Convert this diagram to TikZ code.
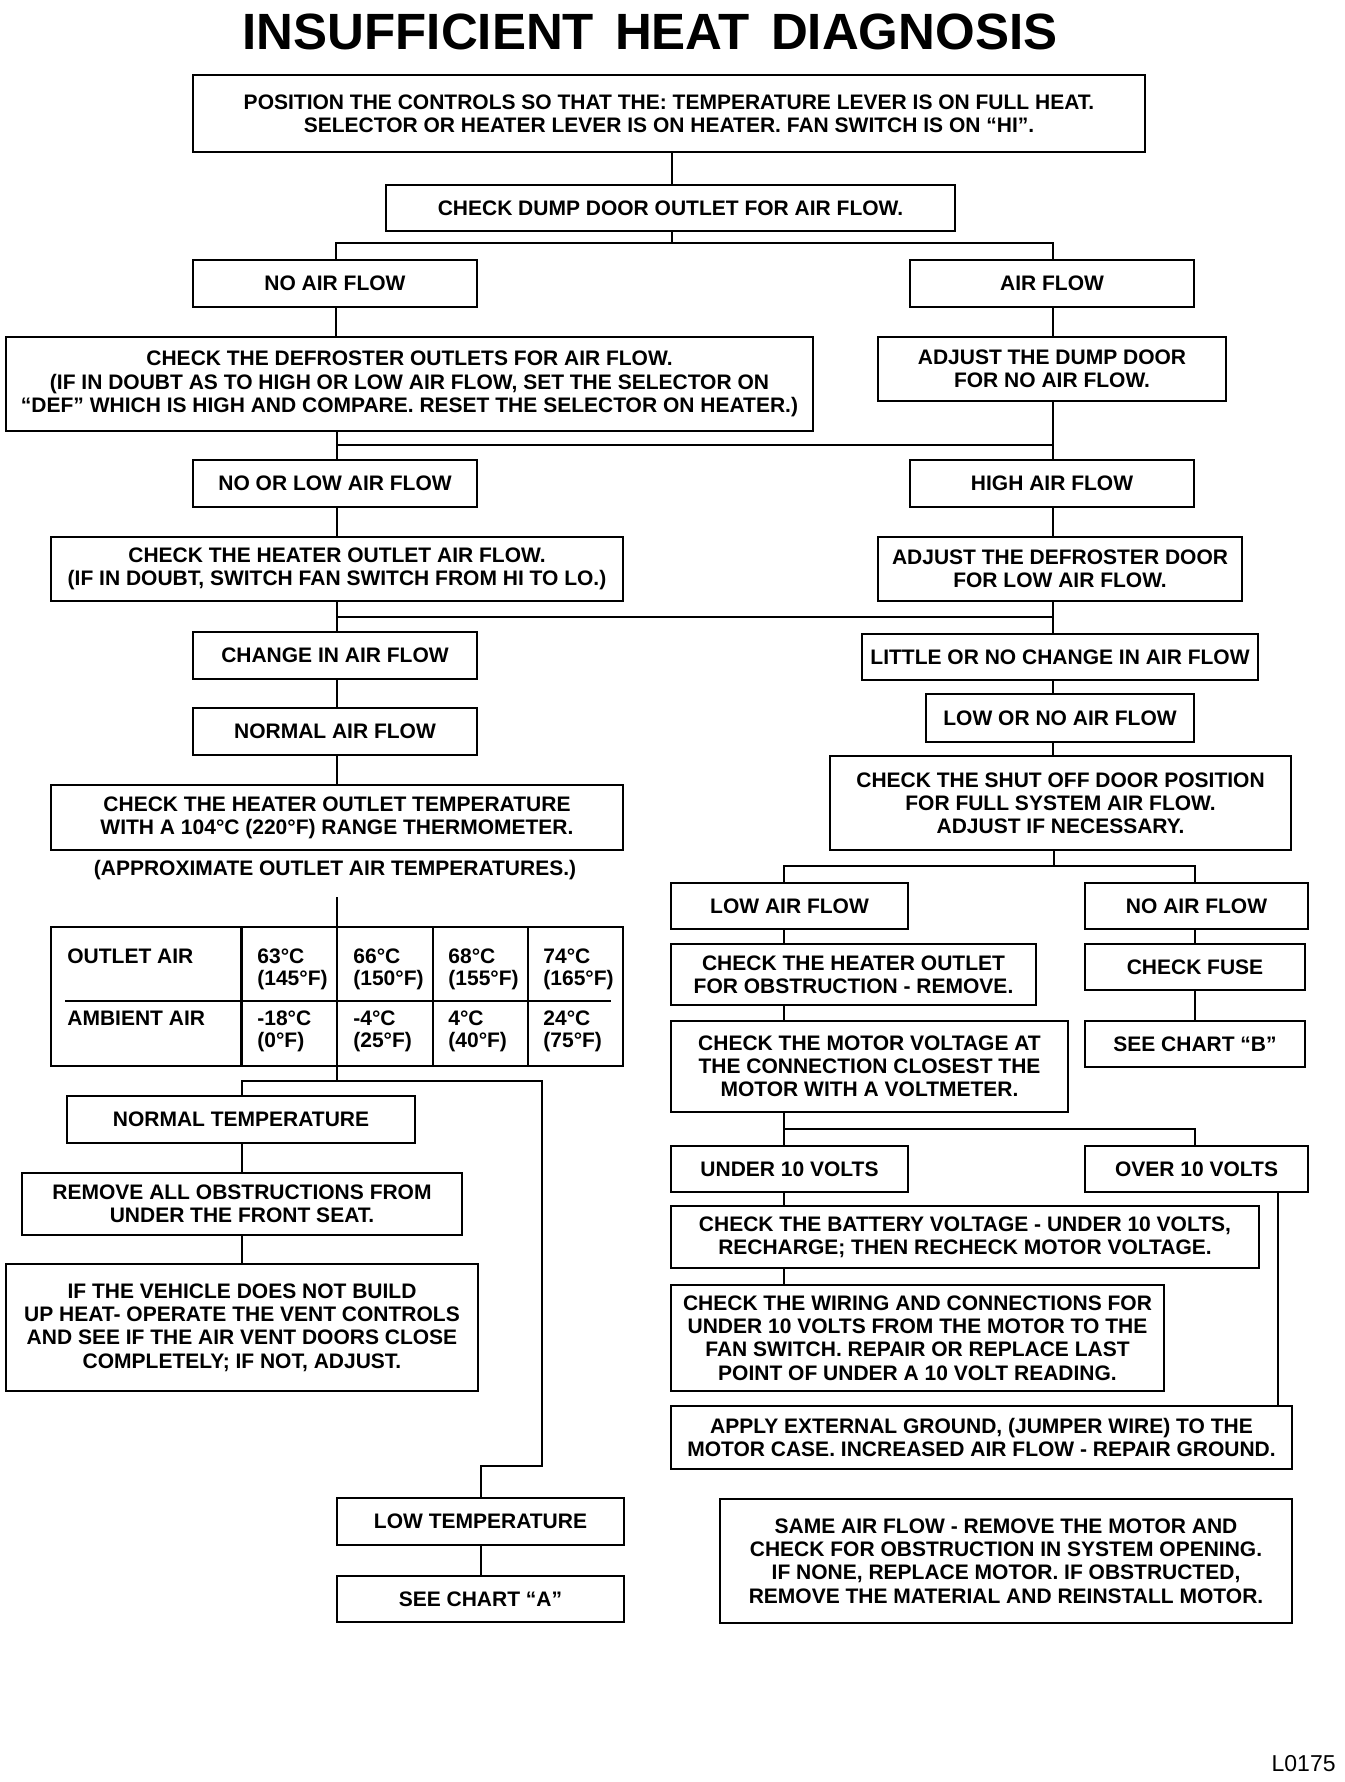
\documentclass[tikz,border=0pt]{standalone}
\usepackage{fontspec}
\setmainfont{Liberation Sans}
\tikzset{
  box/.style={draw, line width=1.2pt, inner sep=0pt, align=center,
    font=\bfseries\fontsize{10.5}{11.6}\selectfont},
  conn/.style={line width=0.8pt},
  tline/.style={line width=1.2pt},
  tt/.style={inner sep=0pt, anchor=base west, font=\bfseries\fontsize{10.5}{11.6}\selectfont},
}
\newcommand{\bx}[6]{\node[box, minimum width={(#4-#2)*0.5pt}, minimum height={(#5-#3)*0.5pt}] (#1) at ({(#2+#4)/2},{(#3+#5)/2}) {#6};}
\begin{document}
\begin{tikzpicture}[x=0.5pt,y=-0.5pt]
\useasboundingbox (0,0) rectangle (1344,1782);
% title
\node[inner sep=0pt, font=\bfseries\fontsize{25.5}{30}\selectfont] (title) at (650,32) {INSUFFICIENT\hspace{10.5pt}HEAT\hspace{10.5pt}DIAGNOSIS};
% boxes
\bx{pos}{193}{75}{1145}{152}{POSITION THE CONTROLS SO THAT THE: TEMPERATURE LEVER IS ON FULL HEAT.\\SELECTOR OR HEATER LEVER IS ON HEATER. FAN SWITCH IS ON “HI”.}
\bx{dump}{386}{185}{955}{231}{CHECK DUMP DOOR OUTLET FOR AIR FLOW.}
\bx{noair}{193}{260}{477}{307}{NO AIR FLOW}
\bx{air}{910}{260}{1194}{307}{AIR FLOW}
\bx{defrost}{6}{337}{813}{431}{CHECK THE DEFROSTER OUTLETS FOR AIR FLOW.\\(IF IN DOUBT AS TO HIGH OR LOW AIR FLOW, SET THE SELECTOR ON\\“DEF” WHICH IS HIGH AND COMPARE. RESET THE SELECTOR ON HEATER.)}
\bx{adjdump}{878}{337}{1226}{401}{ADJUST THE DUMP DOOR\\FOR NO AIR FLOW.}
\bx{nolow}{193}{460}{477}{507}{NO OR LOW AIR FLOW}
\bx{high}{910}{460}{1194}{507}{HIGH AIR FLOW}
\bx{heatair}{51}{537}{623}{601}{CHECK THE HEATER OUTLET AIR FLOW.\\(IF IN DOUBT, SWITCH FAN SWITCH FROM HI TO LO.)}
\bx{adjdef}{878}{537}{1242}{601}{ADJUST THE DEFROSTER DOOR\\FOR LOW AIR FLOW.}
\bx{change}{193}{632}{477}{679}{CHANGE IN AIR FLOW}
\bx{little}{862}{634}{1258}{680}{LITTLE OR NO CHANGE IN AIR FLOW}
\bx{normal}{193}{708}{477}{755}{NORMAL AIR FLOW}
\bx{lowno}{926}{694}{1194}{742}{LOW OR NO AIR FLOW}
\bx{heattemp}{51}{785}{623}{850}{CHECK THE HEATER OUTLET TEMPERATURE\\WITH A 104°C (220°F) RANGE THERMOMETER.}
\bx{shut}{830}{756}{1291}{850}{CHECK THE SHUT OFF DOOR POSITION\\FOR FULL SYSTEM AIR FLOW.\\ADJUST IF NECESSARY.}
\node[inner sep=0pt, font=\bfseries\fontsize{10.5}{11.6}\selectfont] (approx) at (335,870) {(APPROXIMATE OUTLET AIR TEMPERATURES.)};
% table
\bx{table}{51}{927}{623}{1066}{}
\foreach \cx in {241.5,337,433,528} \draw[tline] (\cx,927) -- (\cx,1066);
\draw[tline] (65,1001) -- (611,1001);
\node[tt] (oa) at (67,963) {OUTLET AIR};
\node[tt] (aa) at (67,1025) {AMBIENT AIR};
\foreach \cx/\a/\b/\c/\d [count=\i] in {257/63°C/(145°F)/-18°C/(0°F), 353/66°C/(150°F)/-4°C/(25°F), 448/68°C/(155°F)/4°C/(40°F), 543/74°C/(165°F)/24°C/(75°F)}{
  \node[tt] (ca\i) at (\cx,963) {\a};
  \node[tt] (cb\i) at (\cx,985) {\b};
  \node[tt] (cc\i) at (\cx,1025) {\c};
  \node[tt] (cd\i) at (\cx,1047) {\d};
}
\bx{normtemp}{67}{1096}{415}{1143}{NORMAL TEMPERATURE}
\bx{remove}{22}{1173}{462}{1235}{REMOVE ALL OBSTRUCTIONS FROM\\UNDER THE FRONT SEAT.}
\bx{vehicle}{6}{1264}{478}{1391}{IF THE VEHICLE DOES NOT BUILD\\UP HEAT- OPERATE THE VENT CONTROLS\\AND SEE IF THE AIR VENT DOORS CLOSE\\COMPLETELY; IF NOT, ADJUST.}
\bx{lowtemp}{337}{1498}{624}{1545}{LOW TEMPERATURE}
\bx{chartA}{337}{1576}{624}{1622}{SEE CHART “A”}
\bx{lowair}{671}{883}{908}{929}{LOW AIR FLOW}
\bx{noair2}{1085}{883}{1308}{929}{NO AIR FLOW}
\bx{heatobs}{671}{944}{1036}{1005}{CHECK THE HEATER OUTLET\\FOR OBSTRUCTION - REMOVE.}
\bx{fuse}{1085}{944}{1305}{990}{CHECK FUSE}
\bx{chartB}{1085}{1021}{1305}{1067}{SEE CHART “B”}
\bx{motor}{671}{1021}{1068}{1112}{CHECK THE MOTOR VOLTAGE AT\\THE CONNECTION CLOSEST THE\\MOTOR WITH A VOLTMETER.}
\bx{under}{671}{1146}{908}{1192}{UNDER 10 VOLTS}
\bx{over}{1085}{1146}{1308}{1192}{OVER 10 VOLTS}
\bx{battery}{671}{1206}{1259}{1268}{CHECK THE BATTERY VOLTAGE - UNDER 10 VOLTS,\\RECHARGE; THEN RECHECK MOTOR VOLTAGE.}
\bx{wiring}{671}{1285}{1164}{1391}{CHECK THE WIRING AND CONNECTIONS FOR\\UNDER 10 VOLTS FROM THE MOTOR TO THE\\FAN SWITCH. REPAIR OR REPLACE LAST\\POINT OF UNDER A 10 VOLT READING.}
\bx{apply}{671}{1406}{1292}{1469}{APPLY EXTERNAL GROUND, (JUMPER WIRE) TO THE\\MOTOR CASE. INCREASED AIR FLOW - REPAIR GROUND.}
\bx{same}{720}{1499}{1292}{1623}{SAME AIR FLOW - REMOVE THE MOTOR AND\\CHECK FOR OBSTRUCTION IN SYSTEM OPENING.\\IF NONE, REPLACE MOTOR. IF OBSTRUCTED,\\REMOVE THE MATERIAL AND REINSTALL MOTOR.}
\node[inner sep=0pt, anchor=east, font=\fontsize{11.5}{13}\selectfont] (lbl) at (1336,1764) {L0175};
% connectors top
\coordinate (j1) at (672,243);
\coordinate (j1L) at (336,243);
\coordinate (j1R) at (1053,243);
\draw[conn] (pos.south -| j1) -- (dump.north -| j1);
\draw[conn] (dump.south -| j1) -- (j1);
\draw[conn] (noair.north -| j1L) -- (j1L) -- (j1R) -- (air.north -| j1R);
\draw[conn] (noair.south -| j1L) -- (defrost.north -| j1L);
\draw[conn] (air.south -| j1R) -- (adjdump.north -| j1R);
\coordinate (m1L) at (337,445);
\coordinate (m1R) at (1053,445);
\draw[conn] (defrost.south -| m1L) -- (nolow.north -| m1L);
\draw[conn] (adjdump.south -| m1R) -- (high.north -| m1R);
\draw[conn] (m1L) -- (m1R);
\draw[conn] (nolow.south -| m1L) -- (heatair.north -| m1L);
\draw[conn] (high.south -| m1R) -- (adjdef.north -| m1R);
\coordinate (m2L) at (337,617);
\coordinate (m2R) at (1053,617);
\draw[conn] (heatair.south -| m2L) -- (change.north -| m2L);
\draw[conn] (adjdef.south -| m2R) -- (little.north -| m2R);
\draw[conn] (m2L) -- (m2R);
\draw[conn] (change.south -| m2L) -- (normal.north -| m2L);
\draw[conn] (normal.south -| m2L) -- (heattemp.north -| m2L);
\draw[conn] (little.south -| m2R) -- (lowno.north -| m2R);
\draw[conn] (lowno.south -| m2R) -- (shut.north -| m2R);
% left lower
\coordinate (tt) at (337,897);
\draw[conn] (tt) -- (table.north -| tt);
\coordinate (t2) at (337,1081);
\coordinate (t2L) at (242,1081);
\coordinate (t2R) at (542,1081);
\coordinate (t3R) at (542,1466);
\coordinate (t3L) at (481,1466);
\draw[conn] (table.south -| t2) -- (t2);
\draw[conn] (normtemp.north -| t2L) -- (t2L) -- (t2R) -- (t3R) -- (t3L) -- (lowtemp.north -| t3L);
\draw[conn] (normtemp.south -| t2L) -- (remove.north -| t2L);
\draw[conn] (remove.south -| t2L) -- (vehicle.north -| t2L);
\draw[conn] (lowtemp.south -| t3L) -- (chartA.north -| t3L);
% right lower
\coordinate (r1) at (1054,866);
\coordinate (r1L) at (784,866);
\coordinate (r1R) at (1195,866);
\draw[conn] (shut.south -| r1) -- (r1);
\draw[conn] (lowair.north -| r1L) -- (r1L) -- (r1R) -- (noair2.north -| r1R);
\draw[conn] (lowair.south -| r1L) -- (heatobs.north -| r1L);
\draw[conn] (heatobs.south -| r1L) -- (motor.north -| r1L);
\draw[conn] (noair2.south -| r1R) -- (fuse.north -| r1R);
\draw[conn] (fuse.south -| r1R) -- (chartB.north -| r1R);
\coordinate (r2L) at (784,1129);
\coordinate (r2R) at (1195,1129);
\draw[conn] (motor.south -| r2L) -- (under.north -| r2L);
\draw[conn] (r2L) -- (r2R) -- (over.north -| r2R);
\draw[conn] (under.south -| r2L) -- (battery.north -| r2L);
\draw[conn] (battery.south -| r2L) -- (wiring.north -| r2L);
\coordinate (ov) at (1278,1200);
\draw[conn] (over.south -| ov) -- (apply.north -| ov);
\end{tikzpicture}
\end{document}
